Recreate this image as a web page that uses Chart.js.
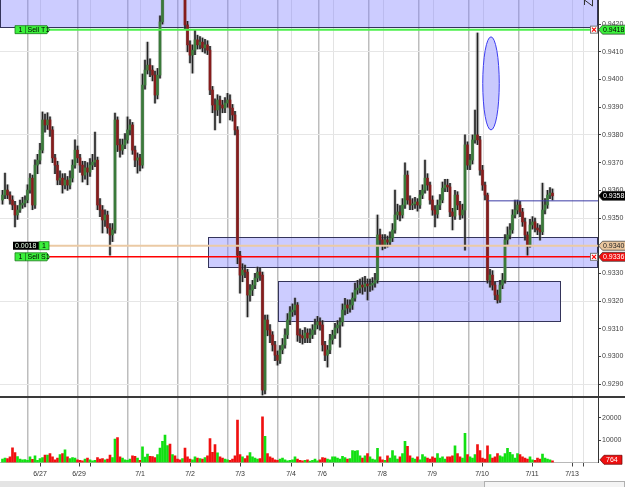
<!DOCTYPE html>
<html>
<head>
<meta charset="utf-8">
<script src="https://cdn.jsdelivr.net/npm/chart.js@4.4.0/dist/chart.umd.min.js"></script>
<style>
  html, body { margin: 0; padding: 0; background: #fff; }
  #wrap { position: relative; width: 625px; height: 487px; overflow: hidden; }
  canvas { position: absolute; left: 0; }
  #price { top: 0; }
  #vol { top: 397px; }
  #sep { position: absolute; left: 0; top: 396px; width: 625px; height: 2px; background: #3a3a3a; }
  #scroll { position: absolute; left: 0; top: 481px; width: 625px; height: 6px; background: #e4e4e4; }
  #thumb { position: absolute; left: 484px; top: 481px; width: 139px; height: 5px; background: #f4f4f4; border: 1px solid #b0b0b0; }
</style>
</head>
<body>
<div id="wrap">
  <canvas id="price" width="625" height="397"></canvas>
  <canvas id="vol" width="625" height="84"></canvas>
  <div id="sep"></div>
  <div id="scroll"></div>
  <div id="thumb"></div>
</div>
<script>
// prices in 1/10000 (9358.3 = 0.93583), one bar every 2.5 px
const firstOpen = 9356.5;
const closes = [
  9358.3, 9360.1, 9358.3, 9356.5, 9354.7, 9351.1, 9352.9, 9354.7, 9355.4, 9356.5,
  9360.1, 9364.4, 9354.7, 9369.1, 9370.9, 9374.5, 9385.4, 9383.6, 9385.4, 9381.8,
  9371.7, 9369.1, 9363.7, 9364.4, 9361.9, 9363.7, 9361.9, 9364.4, 9369.1, 9374.5,
  9371.7, 9369.1, 9365.5, 9368.1, 9366.6, 9369.1, 9370.2, 9370.9, 9354.7, 9352.9,
  9349.3, 9351.1, 9346.4, 9343.9, 9345.7, 9385.4, 9376.4, 9374.5, 9376.4, 9378.2,
  9381.8, 9383.6, 9374.5, 9370.9, 9371.7, 9369.1, 9398.0, 9403.4, 9405.2, 9403.4,
  9401.6, 9394.4, 9401.6, 9420.8, 9431.0, 9434.0, 9437.0, 9435.0, 9438.0, 9436.0,
  9433.0, 9431.0, 9432.0, 9419.7, 9412.5, 9408.8, 9410.6, 9414.3, 9412.5, 9413.5,
  9411.4, 9412.5, 9410.6, 9396.2, 9390.8, 9389.0, 9392.6, 9390.8, 9389.7, 9391.5,
  9392.6, 9389.7, 9387.2, 9381.8, 9336.6, 9329.4, 9331.2, 9330.5, 9322.2, 9324.0,
  9325.8, 9328.3, 9330.5, 9329.4, 9287.9, 9313.2, 9309.6, 9307.8, 9304.2, 9300.5,
  9298.7, 9302.4, 9304.2, 9307.8, 9313.2, 9316.1, 9316.8, 9318.6, 9307.8, 9307.5,
  9306.7, 9308.5, 9306.7, 9307.8, 9309.6, 9311.4, 9312.5, 9311.4, 9304.2, 9300.5,
  9302.4, 9306.0, 9307.8, 9310.3, 9311.4, 9312.5, 9316.8, 9318.6, 9317.5, 9318.6,
  9321.1, 9324.0, 9324.7, 9325.8, 9325.1, 9326.2, 9325.5, 9325.8, 9326.5, 9327.6,
  9343.9, 9342.1, 9340.3, 9342.1, 9341.3, 9342.8, 9345.7, 9351.1, 9352.2, 9351.1,
  9354.7, 9365.5, 9356.5, 9354.7, 9355.1, 9355.8, 9354.7, 9358.3, 9360.1, 9364.4,
  9361.9, 9356.5, 9352.9, 9351.4, 9354.7, 9356.5, 9360.8, 9361.9, 9361.2, 9352.2,
  9350.7, 9358.3, 9354.7, 9351.1, 9352.9, 9376.4, 9369.1, 9370.9, 9378.2, 9380.0,
  9378.2, 9367.3, 9361.9, 9358.3, 9327.6, 9329.4, 9325.8, 9322.2, 9320.4, 9325.8,
  9327.6, 9342.1, 9343.9, 9345.7, 9351.1, 9352.9, 9354.7, 9352.2, 9348.6, 9343.9,
  9340.3, 9347.5, 9348.6, 9346.4, 9345.7, 9345.0, 9352.9, 9354.7, 9358.3, 9359.0, 9358.0
];
const highs = [
  9360, 9366.2, 9362, 9359.5, 9358, 9356, 9354.5, 9356.5, 9357.5, 9358,
  9362, 9366, 9365.5, 9371, 9373, 9377, 9388.3, 9387.5, 9388, 9386.5,
  9383, 9373, 9370.5, 9367, 9366, 9366, 9365, 9367, 9371, 9378.2,
  9376, 9373, 9370.5, 9370.5, 9370, 9371.5, 9373, 9381, 9372, 9357,
  9354.5, 9353, 9352.5, 9348, 9348, 9387.9, 9386.5, 9378.5, 9378.5, 9380.5,
  9386.5, 9385.5, 9384.5, 9376, 9373.5, 9373, 9402, 9407, 9413.5, 9407.5,
  9405, 9403, 9404, 9423, 9432, 9436, 9439, 9439.5, 9440, 9440,
  9437.5, 9435, 9434, 9433, 9421, 9414, 9412.5, 9417.9, 9416, 9415.5,
  9415, 9414.5, 9414, 9412, 9397.5, 9393, 9394.5, 9394, 9392.5, 9393.5,
  9395, 9394.5, 9391, 9388.5, 9383, 9338, 9333.5, 9333, 9331.5, 9326,
  9327.5, 9330, 9332.3, 9332, 9330.5, 9315, 9315, 9311.5, 9309, 9305.5,
  9302, 9304, 9306.5, 9310, 9315.5, 9318, 9319, 9321.1, 9319.5, 9310,
  9309.5, 9310.5, 9310, 9310, 9311.5, 9313.5, 9314.5, 9314, 9313, 9305.5,
  9304, 9308, 9309.5, 9312, 9313, 9314, 9319, 9321, 9320.5, 9320.5,
  9323, 9326.5, 9327.5, 9328, 9328.5, 9329, 9328, 9328, 9328.5, 9330,
  9351.1, 9346, 9344, 9344, 9343.5, 9345, 9348, 9360.1, 9355, 9354.5,
  9357, 9369.9, 9367, 9358, 9357, 9357.5, 9357, 9360, 9362, 9370.9,
  9366, 9363, 9358, 9354.5, 9356.5, 9358.5, 9363, 9364, 9364, 9362.5,
  9353.5, 9360, 9359.5, 9356, 9355, 9380, 9377.5, 9373, 9380, 9389,
  9416.8, 9379.5, 9369, 9363, 9359, 9331.5, 9331, 9327, 9324, 9327.5,
  9330, 9344, 9346.8, 9348, 9353, 9356.5, 9356.5, 9356, 9353.5, 9350,
  9345, 9349.5, 9350.5, 9350, 9348, 9347.5, 9362.6, 9357, 9360, 9361, 9360.5
];
const lows = [
  9355, 9357, 9357, 9355, 9353, 9346.8, 9349.5, 9352, 9353.5, 9354,
  9355.5, 9359, 9353, 9353.5, 9366, 9369.5, 9373.5, 9381, 9382, 9379.5,
  9370, 9366, 9362, 9362, 9359, 9360.5, 9360, 9360.5, 9363, 9368,
  9370, 9366.5, 9363, 9364, 9362, 9365, 9367.5, 9368.5, 9353, 9350.5,
  9344.6, 9347, 9344.5, 9336.6, 9341.5, 9344.5, 9374, 9372, 9373, 9375,
  9377, 9380, 9373, 9368.5, 9366.2, 9367, 9368, 9396.5, 9402, 9401,
  9399.5, 9391.5, 9393, 9400.5, 9420, 9430, 9432.5, 9433, 9434, 9434,
  9431.5, 9430, 9429.5, 9418, 9410, 9406, 9402.3, 9409, 9411, 9411,
  9410, 9409.5, 9409, 9394.5, 9388, 9381.8, 9387, 9384.3, 9388, 9388,
  9390, 9385.4, 9385, 9380, 9333.5, 9322.9, 9327, 9328.5, 9314.3, 9320,
  9322, 9324.5, 9327, 9327.5, 9286.1, 9286.5, 9307.5, 9305, 9302, 9298.5,
  9296.9, 9297.5, 9301, 9303, 9306.5, 9311.5, 9314.5, 9315, 9305.5, 9305,
  9304.5, 9305, 9305, 9305, 9306.5, 9308, 9310, 9309.5, 9302, 9298.5,
  9296.2, 9301, 9304.5, 9306.5, 9308.5, 9303.4, 9311, 9315, 9315.5, 9316,
  9317, 9320, 9322.5, 9323, 9322.5, 9323.5, 9320.4, 9323.5, 9324, 9325,
  9326.5, 9340, 9338.5, 9339, 9339.5, 9340, 9341.5, 9344.5, 9349.5, 9349,
  9350, 9353.5, 9355, 9353, 9353, 9353.5, 9352.5, 9353.5, 9357, 9359,
  9360, 9355, 9351, 9346.8, 9350, 9353, 9355.5, 9359.5, 9359.5, 9350.5,
  9345.7, 9349.5, 9353, 9349.5, 9350, 9338.4, 9367.5, 9367.5, 9369.5, 9377,
  9376.5, 9365.5, 9360, 9356.5, 9326.5, 9325, 9324, 9320.5, 9319.3, 9319.5,
  9324.5, 9326.5, 9340.5, 9342.5, 9344.5, 9350, 9351.5, 9350.5, 9347, 9342,
  9336.6, 9339.5, 9346, 9345, 9344, 9342, 9344, 9351.5, 9353.5, 9357, 9356.5
];
const volumes = [
  1500, 2000, 1800, 2500, 6500, 4400, 2600, 1500, 1200, 1300,
  1000, 2500, 1400, 3000, 1000, 1800, 2200, 3300, 3300, 4000,
  2500, 1200, 2000, 3500, 4000, 5700, 2500, 1800, 2200, 2000,
  1200, 1000, 800, 1500, 2000, 1200, 800, 1000, 2200, 1500,
  1800, 1200, 1500, 3300, 2200, 10400, 11100, 2500, 2000, 1200,
  1000, 1500, 3000, 2800, 2000, 1000, 7000, 2400, 3800, 2800,
  2600, 2200, 3500, 6400, 9400, 12200, 7500, 8200, 3500, 3000,
  1500, 1200, 1800, 6400, 2500, 1500, 1200, 2500, 2000, 1800,
  1500, 2200, 3000, 10700, 4500, 8000, 4300, 2500, 2000, 1500,
  1200, 1000, 1500, 3000, 18900, 3500, 2500, 1800, 3000, 4400,
  2500, 2000, 1500, 1800, 20400, 11700, 4000, 2500, 2000, 1200,
  1000, 1500, 2000, 1200, 800, 1000, 1200, 2500, 1500, 1000,
  800, 1000, 1200, 600, 1000, 1500, 800, 1200, 2200, 2000,
  1500, 1200, 2500, 2500, 2000, 1500, 2800, 2200, 1500, 1800,
  5300, 5100, 5300, 3000, 2000, 3000, 4000, 2500, 1500, 1200,
  6300, 2500, 1200, 1000, 3000, 2000, 5300, 3000, 1500, 2500,
  4000, 9400, 7200, 3000, 2000, 1500, 2500, 1200, 3500, 2500,
  2000, 1500, 2500, 2000, 4000, 2000, 2500, 1500, 2500, 2500,
  3000, 7400, 4000, 2500, 2000, 13000, 3500, 2500, 2000, 3500,
  8000, 5300, 2000, 1500, 7400, 3500, 2000, 2500, 4000, 3000,
  2500, 4000, 6300, 4500, 3500, 2000, 4000, 3500, 2500, 2000,
  1500, 2500, 1200, 1000, 2000, 1500, 3800, 2000, 1500, 1200, 764
];

// time axis (bar units)
const sessionBreaks = [11.2, 31.2, 51.2, 71.2, 91.2, 111.2, 127.6, 147.6, 167.6, 187.6, 207.6];
const dayLines = [16, 36, 56, 76, 96, 116.4, 133.2, 153.2, 173.2, 193.2, 213.2, 228.8, 233.2];
const dateTicks = [16, 31.6, 56, 76, 96, 116.4, 128.8, 152.8, 172.8, 192.8, 212.8, 228.8];
const dateLabels = ['6/27', '6/29', '7/1', '7/2', '7/3', '7/4', '7/6', '7/8', '7/9', '7/10', '7/11', '7/13'];
const blankTicks = [36, 133.2, 233.2];

const priceTicks = [0.929, 0.930, 0.931, 0.932, 0.933, 0.934, 0.935, 0.936, 0.937, 0.938, 0.939, 0.940, 0.941, 0.942];
const volTicks = [10000, 20000];

// drawn objects
const levelT1 = 0.9418, levelS1 = 0.9336, levelEntry = 0.9340, levelMark = 0.93562;
const zones = [[0, 239.2, 0.94188, 0.9445], [83.2, 239.2, 0.93322, 0.93430], [111.2, 224.4, 0.93128, 0.93272]];
const ellipseZone = [196.4, 0.93986, 3.3, 0.00168];

const X_MAX = 239.2, LEVEL_START = 19.6, MARK_START = 195.2;
const P_MIN = 0.92854, P_MAX = 0.94287, V_MAX = 29200;
const FONT_FAMILY = '"Liberation Sans", Arial, sans-serif';
const CLEAR = 'rgba(0,0,0,0)';

const opens = closes.map((c, i) => i === 0 ? firstOpen : closes[i - 1]);
const isUp = closes.map((c, i) => c >= opens[i]);
const allXTicks = [...new Set([...sessionBreaks, ...dayLines, ...dateTicks, ...blankTicks])].sort((a, b) => a - b);

function xScale(withLabels) {
  return {
    type: 'linear', min: 0, max: X_MAX, offset: false,
    afterBuildTicks: s => { s.ticks = allXTicks.map(v => ({ value: v })); },
    afterFit: s => { s.height = withLabels ? 18.5 : 0; s.paddingLeft = 0; s.paddingRight = 0; },
    ticks: {
      display: withLabels, autoSkip: false, maxRotation: 0, padding: 3,
      font: { family: FONT_FAMILY, size: 7 }, color: '#333',
      callback: v => { const k = dateTicks.indexOf(v); return k >= 0 ? dateLabels[k] : ''; }
    },
    grid: {
      offset: false,
      color: c => sessionBreaks.includes(c.tick.value) ? '#bdbdbd' : (dayLines.includes(c.tick.value) ? '#e3e3e3' : CLEAR),
      lineWidth: c => sessionBreaks.includes(c.tick.value) ? 1.5 : 1,
      drawTicks: withLabels, tickLength: 4,
      tickColor: c => (dateTicks.includes(c.tick.value) || blankTicks.includes(c.tick.value)) ? '#444' : CLEAR
    },
    border: { display: withLabels, color: '#b8b8b8' }
  };
}

function rightTag(ctx, yc, fill, text, textColor) {
  const x = 598.5, w = 27, h = 9;
  ctx.beginPath();
  ctx.moveTo(x, yc);
  ctx.lineTo(x + 4, yc - h / 2);
  ctx.lineTo(x + w, yc - h / 2);
  ctx.lineTo(x + w, yc + h / 2);
  ctx.lineTo(x + 4, yc + h / 2);
  ctx.closePath();
  ctx.fillStyle = fill; ctx.fill();
  ctx.strokeStyle = '#333'; ctx.lineWidth = 0.7; ctx.stroke();
  ctx.fillStyle = textColor;
  ctx.font = '7px ' + FONT_FAMILY;
  ctx.textAlign = 'left'; ctx.textBaseline = 'middle';
  ctx.fillText(text, x + 4.5, yc + 0.5);
}

function closeBox(ctx, yc) {
  const x = 590.5, s = 7;
  ctx.fillStyle = '#fff';
  ctx.fillRect(x, yc - s / 2, s, s);
  ctx.strokeStyle = '#777'; ctx.lineWidth = 1;
  ctx.strokeRect(x, yc - s / 2, s, s);
  ctx.strokeStyle = '#f00'; ctx.lineWidth = 1.2;
  ctx.beginPath();
  ctx.moveTo(x + 1.5, yc - 2); ctx.lineTo(x + s - 1.5, yc + 2);
  ctx.moveTo(x + s - 1.5, yc - 2); ctx.lineTo(x + 1.5, yc + 2);
  ctx.stroke();
}

function orderTag(ctx, yc, qty, name) {
  const l = 15, r = 47, h = 8;
  ctx.beginPath();
  ctx.moveTo(l, yc - h / 2); ctx.lineTo(r, yc - h / 2); ctx.lineTo(r + 2.5, yc);
  ctx.lineTo(r, yc + h / 2); ctx.lineTo(l, yc + h / 2); ctx.closePath();
  ctx.fillStyle = '#3cf03c'; ctx.fill();
  ctx.strokeStyle = '#1a7a1a'; ctx.lineWidth = 0.8; ctx.stroke();
  ctx.beginPath(); ctx.moveTo(25.5, yc - h / 2); ctx.lineTo(25.5, yc + h / 2); ctx.stroke();
  ctx.fillStyle = '#000'; ctx.font = '7px ' + FONT_FAMILY; ctx.textBaseline = 'middle';
  ctx.textAlign = 'center'; ctx.fillText(qty, 20.5, yc + 0.5);
  ctx.textAlign = 'left'; ctx.fillText(name, 27.5, yc + 0.5);
}

const priceOverlay = {
  id: 'priceOverlay',
  beforeDatasetsDraw(chart) {
    const { ctx, chartArea: a, scales: { x, y } } = chart;
    ctx.save();
    ctx.beginPath(); ctx.rect(a.left, a.top, a.width, a.height); ctx.clip();
    zones.forEach(([from, to, lo, hi]) => {
      const x0 = Math.round(x.getPixelForValue(from)), x1 = Math.round(x.getPixelForValue(to));
      const y0 = Math.round(y.getPixelForValue(hi)), y1 = Math.round(y.getPixelForValue(lo));
      ctx.fillStyle = 'rgba(128,128,255,0.4)';
      ctx.fillRect(x0, y0, x1 - x0, y1 - y0);
      ctx.strokeStyle = '#34345a'; ctx.lineWidth = 1;
      ctx.strokeRect(x0 + 0.5, y0 + 0.5, x1 - x0 - 1, y1 - y0);
    });
    const [ex, ey, erx, ery] = ellipseZone;
    const cx = x.getPixelForValue(ex), cy = y.getPixelForValue(ey);
    const rx = x.getPixelForValue(ex + erx) - cx, ry = cy - y.getPixelForValue(ey + ery);
    ctx.beginPath(); ctx.ellipse(cx, cy, rx, ry, 0, 0, Math.PI * 2);
    ctx.fillStyle = '#c9c9fd'; ctx.fill();
    ctx.strokeStyle = '#3c3cf0'; ctx.lineWidth = 1; ctx.stroke();
    ctx.restore();
  },
  afterDraw(chart) {
    const { ctx, scales: { y } } = chart;
    ctx.save();
    const yT1 = y.getPixelForValue(levelT1), yS1 = y.getPixelForValue(levelS1);
    const yEn = y.getPixelForValue(levelEntry), yLast = y.getPixelForValue(closes[closes.length - 1] / 1e4);
    rightTag(ctx, yT1, '#3cf03c', levelT1.toFixed(4), '#000');
    rightTag(ctx, yLast, '#000', (closes[closes.length - 1] / 1e4).toFixed(4), '#fff');
    rightTag(ctx, yEn, '#e9c69e', levelEntry.toFixed(4), '#222');
    rightTag(ctx, yS1, '#ee1010', levelS1.toFixed(4), '#fff');
    closeBox(ctx, yT1);
    closeBox(ctx, yS1);
    orderTag(ctx, yT1, '1', 'Sell T1');
    orderTag(ctx, yS1, '1', 'Sell S1');
    // entry tag: distance + quantity
    ctx.fillStyle = '#000'; ctx.fillRect(13, yEn - 4, 26, 8);
    ctx.fillStyle = '#3cf03c'; ctx.fillRect(39, yEn - 4, 10, 8);
    ctx.strokeStyle = '#1a7a1a'; ctx.lineWidth = 0.8; ctx.strokeRect(39, yEn - 4, 10, 8);
    ctx.font = '7px ' + FONT_FAMILY; ctx.textBaseline = 'middle';
    ctx.fillStyle = '#e6ffe6'; ctx.textAlign = 'left'; ctx.fillText('0.0018', 15, yEn + 0.5);
    ctx.fillStyle = '#000'; ctx.textAlign = 'center'; ctx.fillText('1', 44, yEn + 0.5);
    // small corner icon
    ctx.strokeStyle = '#333'; ctx.lineWidth = 1;
    ctx.beginPath();
    ctx.moveTo(584.5, 0); ctx.lineTo(592.5, 6); ctx.lineTo(592.5, 0);
    ctx.moveTo(584.5, 0); ctx.lineTo(584.5, 5);
    ctx.stroke();
    ctx.restore();
  }
};

const volOverlay = {
  id: 'volOverlay',
  afterDraw(chart) {
    const { ctx, scales: { y } } = chart;
    ctx.save();
    const last = volumes[volumes.length - 1];
    const yc = y.getPixelForValue(last) - 1;
    const x = 600, w = 22, h = 9;
    ctx.beginPath();
    ctx.moveTo(x, yc); ctx.lineTo(x + 4, yc - h / 2); ctx.lineTo(x + w, yc - h / 2);
    ctx.lineTo(x + w, yc + h / 2); ctx.lineTo(x + 4, yc + h / 2); ctx.closePath();
    ctx.fillStyle = '#ee1010'; ctx.fill();
    ctx.strokeStyle = '#600'; ctx.lineWidth = 0.7; ctx.stroke();
    ctx.fillStyle = '#fff'; ctx.font = '7px ' + FONT_FAMILY;
    ctx.textAlign = 'left'; ctx.textBaseline = 'middle';
    ctx.fillText(String(last), x + 6, yc + 0.5);
    ctx.restore();
  }
};

const levelLine = (from, value, color, width) => ({
  type: 'line',
  data: [{ x: from, y: value }, { x: X_MAX, y: value }],
  borderColor: color, borderWidth: width, pointRadius: 0, order: 0
});

new Chart(document.getElementById('price'), {
  type: 'bar',
  data: {
    datasets: [
      levelLine(LEVEL_START, levelT1, '#4cf04c', 2),
      levelLine(LEVEL_START, levelEntry, '#ebcaa4', 2),
      levelLine(LEVEL_START, levelS1, '#ff0000', 1.5),
      levelLine(MARK_START, levelMark, '#3a3aa6', 1),
      {
        data: closes.map((c, i) => ({ x: i + 1, y: [Math.min(opens[i], c) / 1e4, Math.max(opens[i], c) / 1e4] })),
        backgroundColor: closes.map((c, i) => isUp[i] ? '#3a7a3a' : '#861c1c'),
        barThickness: 2, minBarLength: 1, grouped: false, order: 2
      },
      {
        data: closes.map((c, i) => ({ x: i + 1, y: [lows[i] / 1e4, highs[i] / 1e4] })),
        backgroundColor: '#222', barThickness: 1, grouped: false, order: 3
      },
      {
        // soft grey halo round each candle
        data: closes.map((c, i) => ({ x: i + 1, y: [lows[i] / 1e4, highs[i] / 1e4] })),
        backgroundColor: 'rgba(150,150,150,0.35)', barThickness: 3.5, grouped: false, order: 4
      }
    ]
  },
  options: {
    responsive: false, animation: false,
    layout: { padding: 0 },
    plugins: { legend: { display: false }, tooltip: { enabled: false } },
    scales: {
      x: xScale(false),
      y: {
        position: 'right', min: P_MIN, max: P_MAX,
        afterBuildTicks: s => { s.ticks = priceTicks.map(v => ({ value: v })); },
        afterFit: s => { s.width = 27; s.paddingTop = 0; s.paddingBottom = 0; },
        ticks: { font: { family: FONT_FAMILY, size: 7 }, color: '#444', padding: 1, callback: v => v.toFixed(4) },
        grid: {
          color: c => (Math.round(c.tick.value * 10000) - 9290) % 30 === 0 ? '#e6e6e6' : CLEAR,
          tickColor: '#444', tickLength: 3
        },
        border: { color: '#333', width: 1 }
      }
    }
  },
  plugins: [priceOverlay]
});

new Chart(document.getElementById('vol'), {
  type: 'bar',
  data: {
    datasets: [{
      data: volumes.map((v, i) => ({ x: i + 1, y: v })),
      backgroundColor: volumes.map((v, i) => isUp[i] ? '#12e012' : '#f01010'),
      barThickness: 2, grouped: false
    }]
  },
  options: {
    responsive: false, animation: false,
    layout: { padding: 0 },
    plugins: { legend: { display: false }, tooltip: { enabled: false } },
    scales: {
      x: xScale(true),
      y: {
        position: 'right', min: 0, max: V_MAX,
        afterBuildTicks: s => { s.ticks = volTicks.map(v => ({ value: v })); },
        afterFit: s => { s.width = 27; s.paddingTop = 0; s.paddingBottom = 0; },
        ticks: { font: { family: FONT_FAMILY, size: 7 }, color: '#444', padding: 1, callback: v => String(v) },
        grid: { color: CLEAR, tickColor: '#444', tickLength: 3 },
        border: { color: '#333', width: 1 }
      }
    }
  },
  plugins: [volOverlay]
});
</script>
</body>
</html>
